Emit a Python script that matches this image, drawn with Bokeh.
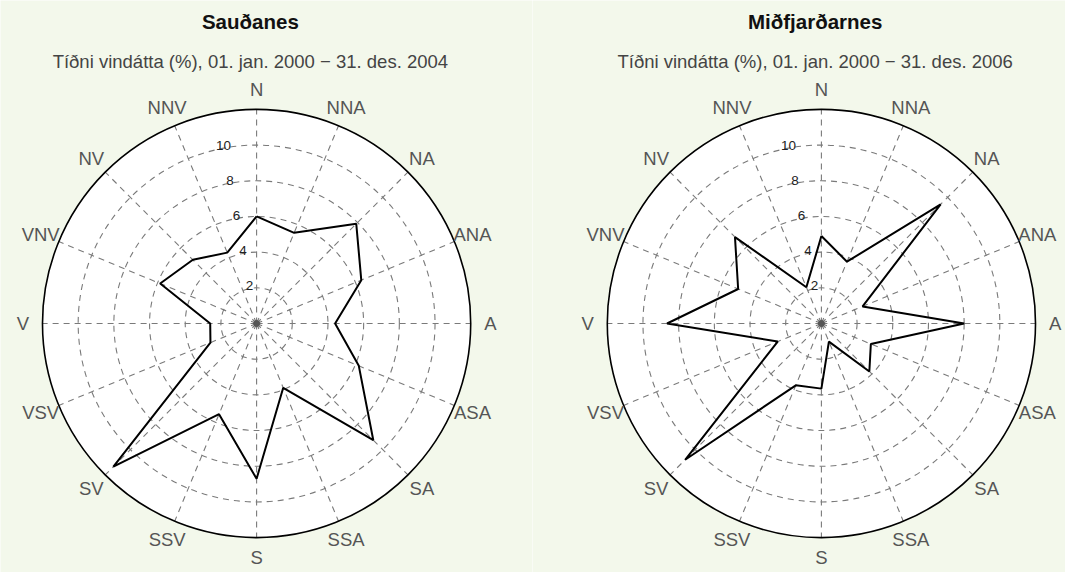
import numpy as np
from bokeh.plotting import figure
from bokeh.layouts import row
from bokeh.models import Range1d
from bokeh.core.properties import value
from bokeh.embed import file_html
from bokeh.resources import INLINE

# ---- data ----
directions = ["N", "NNA", "NA", "ANA", "A", "ASA", "SA", "SSA",
              "S", "SSV", "SV", "VSV", "V", "VNV", "NV", "NNV"]
sau_values = [6.0, 5.5, 7.9, 6.35, 4.4, 6.2, 9.25, 3.9,
              8.7, 5.5, 11.35, 2.8, 2.6, 5.85, 5.05, 4.3]
mid_values = [4.9, 3.75, 9.45, 2.5, 8.0, 3.0, 3.8, 1.1,
              3.65, 3.75, 10.8, 2.65, 8.65, 5.05, 6.85, 2.2]
ring_ticks = [2, 4, 6, 8, 10]
r_max = 12
titles = ["Sauðanes", "Miðfjarðarnes"]
subtitles = ["Tíðni vindátta (%), 01. jan. 2000 − 31. des. 2004",
             "Tíðni vindátta (%), 01. jan. 2000 − 31. des. 2006"]

BG = "#F3F8EB"
FONT = value("Liberation Sans")
K = 0.975
S = 18.3 * K        # px per unit
H = 572
CY = 323.0          # polar centre, px from top


def polar_panel(width, cx_px, values, title, subtitle):
    y_top = CY / S
    y_bot = -(H - CY) / S
    x0 = -cx_px / S
    x1 = (width - cx_px) / S
    p = figure(width=width, height=H, x_range=Range1d(x0, x1), y_range=Range1d(y_bot, y_top),
               x_axis_type=None, y_axis_type=None, toolbar_location=None,
               output_backend="svg", min_border=0)
    p.grid.visible = False
    p.outline_line_color = None
    p.background_fill_color = BG
    p.border_fill_color = BG

    # white disk
    p.circle(x=[0], y=[0], radius=r_max, fill_color="white", line_color=None)

    # rings
    p.circle(x=[0] * len(ring_ticks), y=[0] * len(ring_ticks), radius=ring_ticks,
             fill_color=None, line_color="#7a7a7a", line_width=1.1, line_dash="6 5")

    # spokes
    b = np.deg2rad(np.arange(len(directions)) * 360.0 / len(directions))
    p.segment(x0=np.zeros(len(b)), y0=np.zeros(len(b)),
              x1=r_max * np.sin(b), y1=r_max * np.cos(b),
              line_color="#7a7a7a", line_width=1.1, line_dash="6 5")
    p.scatter(x=[0], y=[0], size=6, color="#555555")

    # outer circle
    p.circle(x=[0], y=[0], radius=r_max, fill_color=None, line_color="black", line_width=1.6)

    # data polygon
    v = np.array(values + values[:1])
    bb = np.concatenate([b, b[:1]])
    p.line(x=v * np.sin(bb), y=v * np.cos(bb), line_color="black", line_width=2)

    # ring labels
    ta = np.deg2rad(-10.5)
    rr = np.array(ring_ticks, dtype=float) + 0.15
    p.text(x=rr * np.sin(ta), y=rr * np.cos(ta), text=[str(t) for t in ring_ticks],
           text_font=FONT, text_font_size="13.5px", text_color="#222222",
           text_align="center", text_baseline="middle")

    # direction labels
    rl = 13.1
    p.text(x=rl * np.sin(b), y=rl * np.cos(b), text=directions,
           text_font=FONT, text_font_size="18.5px", text_color="#555555",
           text_align="center", text_baseline="middle")

    # titles
    p.text(x=[-0.35], y=[(CY - 21.4) / S], text=[title], text_font=FONT,
           text_font_size="20.5px", text_font_style="bold", text_color="#111111",
           text_align="center", text_baseline="middle")
    p.text(x=[-0.35], y=[(CY - 60.5) / S], text=[subtitle], text_font=FONT,
           text_font_size="18.5px", text_color="#444444",
           text_align="center", text_baseline="middle")
    return p


p1 = polar_panel(532, 256.1, sau_values, titles[0], subtitles[0])
p2 = polar_panel(533, 820.9 - 532, mid_values, titles[1], subtitles[1])
p = row(p1, p2)
p.spacing = 0

open("out.html", "w").write(file_html(p, INLINE))
